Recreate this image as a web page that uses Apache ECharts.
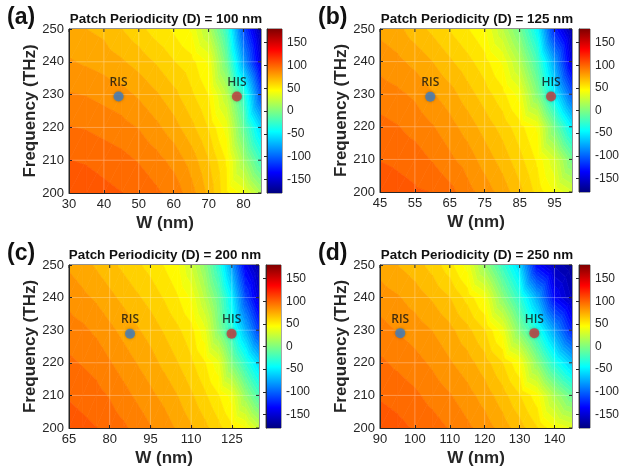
<!DOCTYPE html>
<html>
<head>
<meta charset="utf-8">
<script src="https://cdn.jsdelivr.net/npm/echarts@6/dist/echarts.min.js"></script>
<style>
  html, body { margin: 0; padding: 0; background: #ffffff; }
  #chart { width: 622px; height: 470px; }
</style>
</head>
<body>
<div id="chart"></div>
<script>
// Frequency rows (THz), shared by all four maps
const freqRows = [200, 210, 220, 230, 240, 250];
const freqTicks = [200, 210, 220, 230, 240, 250];

// (a) D = 100 nm : reflection phase (deg), rows follow freqRows
const wA = [30, 35, 40, 45, 50, 55, 60, 65, 70, 75, 80, 85];
const phaseA = [
  [106, 105, 103, 101, 99, 95, 91, 82, 70, 52, 40, 15],
  [101, 100, 98, 96, 93, 89, 84, 76, 65, 50, 12, -25],
  [94, 93, 91, 89, 86, 81, 75, 67, 57, 40, -10, -60],
  [87, 86, 84, 82, 78, 73, 67, 59, 50, 22, -28, -110],
  [80, 78, 76, 73, 69, 64, 58, 53, 42, -5, -80, -150],
  [74, 72, 70, 65, 60, 54, 49, 42, 18, -25, -110, -168]
];
const xTicksA = [30, 40, 50, 60, 70, 80];
const risA = [44.2, 229.4];
const hisA = [78.1, 229.4];

// (b) D = 125 nm
const wB = [45, 50, 55, 60, 65, 70, 75, 80, 85, 90, 95, 100];
const phaseB = [
  [106, 104, 102, 100.5, 96, 89, 83, 76, 67, 55, 42, 30],
  [100.5, 99, 97, 93, 88, 83, 76, 69, 60, 49, 30, -5],
  [96, 94, 91, 87, 82, 76, 69, 62, 53, 42, -5, -50],
  [90, 88, 85, 80, 75, 68, 61, 53, 40, 2, -50, -105],
  [84, 81, 77, 72, 66, 60, 53, 42, 18, -20, -80, -150],
  [77, 74, 68, 63, 57, 51, 44, 22, -5, -45, -125, -168]
];
const xTicksB = [45, 55, 65, 75, 85, 95];
const risB = [59.4, 229.2];
const hisB = [94.0, 229.3];

// (c) D = 200 nm
const wC = [65, 70, 75, 80, 85, 90, 95, 100, 105, 110, 115, 120, 125, 130, 135];
const phaseC = [
  [105, 103, 101, 98, 95, 91, 87, 83, 78, 73, 67, 60, 52, 44, 25],
  [100, 98, 96, 93, 89, 85, 81, 77, 72, 66, 59, 51, 40, 8, -20],
  [95, 93, 91, 87, 83, 79, 75, 70, 65, 59, 51, 38, 0, -30, -60],
  [90, 88, 85, 81, 77, 73, 69, 64, 59, 53, 38, 3, -30, -72, -115],
  [84, 81, 78, 74, 70, 66, 62, 57, 51, 42, 20, -8, -50, -110, -150],
  [78, 75, 71, 67, 63, 59, 55, 50, 44, 28, 5, -30, -80, -140, -168]
];
const xTicksC = [65, 80, 95, 110, 125];
const risC = [87.5, 228.9];
const hisC = [124.9, 228.9];

// (d) D = 250 nm
const wD = [90, 95, 100, 105, 110, 115, 120, 125, 130, 135, 140, 145];
const phaseD = [
  [105, 103, 100, 97, 93, 88, 83, 76, 68, 58, 44, 35],
  [100, 98, 95, 91, 87, 82, 76, 68, 58, 46, 15, -10],
  [95, 92, 89, 85, 80, 75, 68, 58, 44, 5, -35, -65],
  [89, 86, 83, 79, 74, 67, 58, 40, 0, -35, -80, -125],
  [83, 80, 76, 71, 65, 55, 42, 5, -30, -75, -135, -160],
  [76, 72, 68, 62, 53, 40, 8, -25, -60, -135, -160, -172]
];
const xTicksD = [90, 100, 110, 120, 130, 140];
const risD = [95.8, 229.1];
const hisD = [134.2, 229.1];

// Colour scale
const phaseMin = -180;
const phaseMax = 180;
const barTicks = [-150, -100, -50, 0, 50, 100, 150];

const panelLetters = ['(a)', '(b)', '(c)', '(d)'];
const panelTitles = [
  'Patch Periodicity (D) = 100 nm',
  'Patch Periodicity (D) = 125 nm',
  'Patch Periodicity (D) = 200 nm',
  'Patch Periodicity (D) = 250 nm'
];

// ---- rendering helpers ----
const LEVEL_STEP = 7.2;
const FONT = '"Liberation Sans", Arial, sans-serif';
const INK = '#262626';

function jet(v) {
  const t = Math.min(1, Math.max(0, (v - phaseMin) / (phaseMax - phaseMin)));
  const c = x => Math.round(255 * Math.min(1, Math.max(0, x)));
  return 'rgb(' + c(1.5 - Math.abs(4 * t - 3)) + ',' + c(1.5 - Math.abs(4 * t - 2)) + ',' + c(1.5 - Math.abs(4 * t - 1)) + ')';
}

// Sutherland-Hodgman clip of a polygon (vertices carry a value) against v >= lvl (sign 1) or v <= lvl (sign -1)
function clipPoly(poly, lvl, sign) {
  const out = [];
  const n = poly.length;
  for (let k = 0; k < n; k++) {
    const a = poly[k], b = poly[(k + 1) % n];
    const ina = sign * (a.v - lvl) >= 0;
    const inb = sign * (b.v - lvl) >= 0;
    if (ina) out.push(a);
    if (ina !== inb) {
      const t = (lvl - a.v) / (b.v - a.v);
      out.push({ x: a.x + t * (b.x - a.x), y: a.y + t * (b.y - a.y), v: lvl });
    }
  }
  return out;
}

function contourRenderer(cols, vals) {
  return function (params, api) {
    const i = api.value(2), j = api.value(3);
    const idx = [[i, j], [i + 1, j], [i + 1, j + 1], [i, j + 1]];
    const p = idx.map(function (q) {
      const c = api.coord([cols[q[0]], freqRows[q[1]]]);
      return { x: c[0], y: c[1], v: vals[q[1]][q[0]] };
    });
    const tris = [[p[0], p[1], p[2]], [p[0], p[2], p[3]]];
    const children = [];
    tris.forEach(function (tri) {
      const vs = tri.map(function (d) { return d.v; });
      const vmin = Math.min.apply(null, vs), vmax = Math.max.apply(null, vs);
      const k0 = Math.floor((vmin - phaseMin) / LEVEL_STEP);
      const k1 = Math.floor((vmax - phaseMin) / LEVEL_STEP);
      for (let k = k0; k <= k1; k++) {
        const lo = phaseMin + k * LEVEL_STEP, hi = lo + LEVEL_STEP;
        let poly = clipPoly(tri, lo, 1);
        if (poly.length < 3) continue;
        poly = clipPoly(poly, hi, -1);
        if (poly.length < 3) continue;
        const col = jet(lo + LEVEL_STEP / 2);
        children.push({
          type: 'polygon',
          shape: { points: poly.map(function (d) { return [d.x, d.y]; }) },
          style: { fill: col, stroke: col, lineWidth: 0.7 }
        });
      }
    });
    return { type: 'group', children: children };
  };
}

function gridLineRenderer(cols, xt) {
  return function (params, api) {
    const x0 = cols[0], x1 = cols[cols.length - 1];
    const y0 = freqRows[0], y1 = freqRows[freqRows.length - 1];
    const children = [];
    const light = { stroke: 'rgba(255,255,255,0.28)', lineWidth: 1 };
    const dark = { stroke: INK, lineWidth: 1 };
    xt.forEach(function (x) {
      const a = api.coord([x, y0]), b = api.coord([x, y1]);
      if (x > x0 && x < x1) {
        children.push({ type: 'line', shape: { x1: a[0], y1: a[1], x2: b[0], y2: b[1] }, style: light });
      }
      children.push({ type: 'line', shape: { x1: b[0], y1: b[1], x2: b[0], y2: b[1] + 3 }, style: dark });
    });
    freqTicks.forEach(function (y) {
      const a = api.coord([x0, y]), b = api.coord([x1, y]);
      if (y > y0 && y < y1) {
        children.push({ type: 'line', shape: { x1: a[0], y1: a[1], x2: b[0], y2: b[1] }, style: light });
      }
      children.push({ type: 'line', shape: { x1: b[0], y1: b[1], x2: b[0] - 3, y2: b[1] }, style: dark });
    });
    return { type: 'group', children: children };
  };
}

function barRenderer(params, api) {
  const a = api.coord([0, phaseMin]);
  const b = api.coord([1, phaseMax]);
  const stops = [
    { offset: 0, color: 'rgb(0,0,128)' },
    { offset: 0.125, color: 'rgb(0,0,255)' },
    { offset: 0.375, color: 'rgb(0,255,255)' },
    { offset: 0.625, color: 'rgb(255,255,0)' },
    { offset: 0.875, color: 'rgb(255,0,0)' },
    { offset: 1, color: 'rgb(128,0,0)' }
  ];
  return {
    type: 'rect',
    shape: { x: a[0], y: b[1], width: b[0] - a[0], height: a[1] - b[1] },
    style: { fill: new echarts.graphic.LinearGradient(0, 1, 0, 0, stops) }
  };
}

// ---- panels ----
const panelData = [
  { cols: wA, vals: phaseA, xt: xTicksA, ris: risA, his: hisA },
  { cols: wB, vals: phaseB, xt: xTicksB, ris: risB, his: hisB },
  { cols: wC, vals: phaseC, xt: xTicksC, ris: risC, his: hisC },
  { cols: wD, vals: phaseD, xt: xTicksD, ris: risD, his: hisD }
];

// page layout (px)
const layout = [
  { plot: { left: 69, top: 29, width: 192, height: 164 }, bar: { left: 267, top: 29, width: 15, height: 164 }, letter: [7, 18], title: [166, 19] },
  { plot: { left: 380, top: 29, width: 192, height: 163 }, bar: { left: 579, top: 29, width: 15, height: 163 }, letter: [318, 18], title: [477, 19] },
  { plot: { left: 69, top: 265, width: 190, height: 163 }, bar: { left: 266, top: 265, width: 15, height: 163 }, letter: [7, 254], title: [165, 255] },
  { plot: { left: 380, top: 265, width: 192, height: 163 }, bar: { left: 579, top: 265, width: 15, height: 163 }, letter: [318, 254], title: [477, 255] }
];

const grids = [], xAxes = [], yAxes = [], series = [], graphics = [];

panelData.forEach(function (pd, p) {
  const L = layout[p];
  const gi = 2 * p, bi = 2 * p + 1;
  grids.push(Object.assign({ show: true, borderColor: INK, borderWidth: 1, backgroundColor: 'transparent' }, L.plot));
  grids.push(Object.assign({ show: true, borderColor: INK, borderWidth: 0.8, backgroundColor: 'transparent' }, L.bar));

  xAxes.push({
    gridIndex: gi, type: 'value', min: pd.cols[0], max: pd.cols[pd.cols.length - 1], z: 10,
    name: 'W (nm)', nameLocation: 'middle', nameGap: 22,
    nameTextStyle: { fontFamily: FONT, fontWeight: 'bold', fontSize: 17, color: INK },
    axisLine: { show: true, onZero: false, lineStyle: { color: INK, width: 1 } },
    axisTick: { show: true, inside: true, length: 3, customValues: pd.xt, lineStyle: { color: INK } },
    axisLabel: { show: true, customValues: pd.xt, fontFamily: FONT, fontSize: 13, color: INK, margin: 5 },
    splitLine: { show: false }
  });
  yAxes.push({
    gridIndex: gi, type: 'value', min: freqRows[0], max: freqRows[freqRows.length - 1], z: 10,
    name: 'Frequency (THz)', nameLocation: 'middle', nameGap: 25,
    nameTextStyle: { fontFamily: FONT, fontWeight: 'bold', fontSize: 17, color: INK },
    axisLine: { show: true, onZero: false, lineStyle: { color: INK, width: 1 } },
    axisTick: { show: true, inside: true, length: 3, customValues: freqTicks, lineStyle: { color: INK } },
    axisLabel: { show: true, customValues: freqTicks, fontFamily: FONT, fontSize: 13, color: INK, margin: 5 },
    splitLine: { show: false }
  });
  xAxes.push({ gridIndex: bi, type: 'value', min: 0, max: 1, show: false });
  yAxes.push({
    gridIndex: bi, type: 'value', position: 'right', min: phaseMin, max: phaseMax, z: 10,
    axisLine: { show: true, lineStyle: { color: INK, width: 0.8 } },
    axisTick: { show: true, inside: true, length: 3, customValues: barTicks, lineStyle: { color: INK } },
    axisLabel: { show: true, customValues: barTicks, fontFamily: FONT, fontSize: 12, color: INK, margin: 5 },
    splitLine: { show: false }
  });

  // filled contour cells
  const cells = [];
  for (let j = 0; j < freqRows.length - 1; j++) {
    for (let i = 0; i < pd.cols.length - 1; i++) {
      cells.push([pd.cols[i], freqRows[j], i, j]);
    }
  }
  series.push({
    type: 'custom', xAxisIndex: gi, yAxisIndex: gi, z: 1, clip: true, silent: true,
    encode: { x: 0, y: 1 },
    renderItem: contourRenderer(pd.cols, pd.vals),
    data: cells
  });
  series.push({
    type: 'custom', xAxisIndex: gi, yAxisIndex: gi, z: 3, silent: true,
    encode: { x: 0, y: 1 },
    renderItem: gridLineRenderer(pd.cols, pd.xt),
    data: [[pd.cols[0], freqRows[0]]]
  });
  [['RIS', pd.ris, '#3f7fc6'], ['HIS', pd.his, '#c83a3c']].forEach(function (m) {
    series.push({
      type: 'scatter', xAxisIndex: gi, yAxisIndex: gi, z: 5, silent: true,
      symbol: 'circle', symbolSize: 10,
      itemStyle: { color: m[2], shadowBlur: 3, shadowColor: 'rgba(0,0,0,0.35)' },
      label: {
        show: true, position: 'top', distance: 3, formatter: m[0],
        fontFamily: '"Open Sans", "Noto Sans", sans-serif', fontSize: 12, fontWeight: 600, color: '#111'
      },
      data: [m[1]]
    });
  });
  series.push({
    type: 'custom', xAxisIndex: bi, yAxisIndex: bi, z: 1, silent: true,
    encode: { x: 0, y: 1 },
    renderItem: barRenderer,
    data: [[0, phaseMin]]
  });

  graphics.push({
    type: 'text', x: L.letter[0], y: L.letter[1],
    style: { text: panelLetters[p], font: 'bold 23px ' + FONT, fill: '#111', align: 'left', verticalAlign: 'middle' }
  });
  graphics.push({
    type: 'text', x: L.title[0], y: L.title[1],
    style: { text: panelTitles[p], font: 'bold 13.4px ' + FONT, fill: '#111', align: 'center', verticalAlign: 'middle' }
  });
});

const chart = echarts.init(document.getElementById('chart'), null, { renderer: 'canvas' });
chart.setOption({
  backgroundColor: '#ffffff',
  animation: false,
  grid: grids,
  xAxis: xAxes,
  yAxis: yAxes,
  series: series,
  graphic: graphics
});
</script>
</body>
</html>
